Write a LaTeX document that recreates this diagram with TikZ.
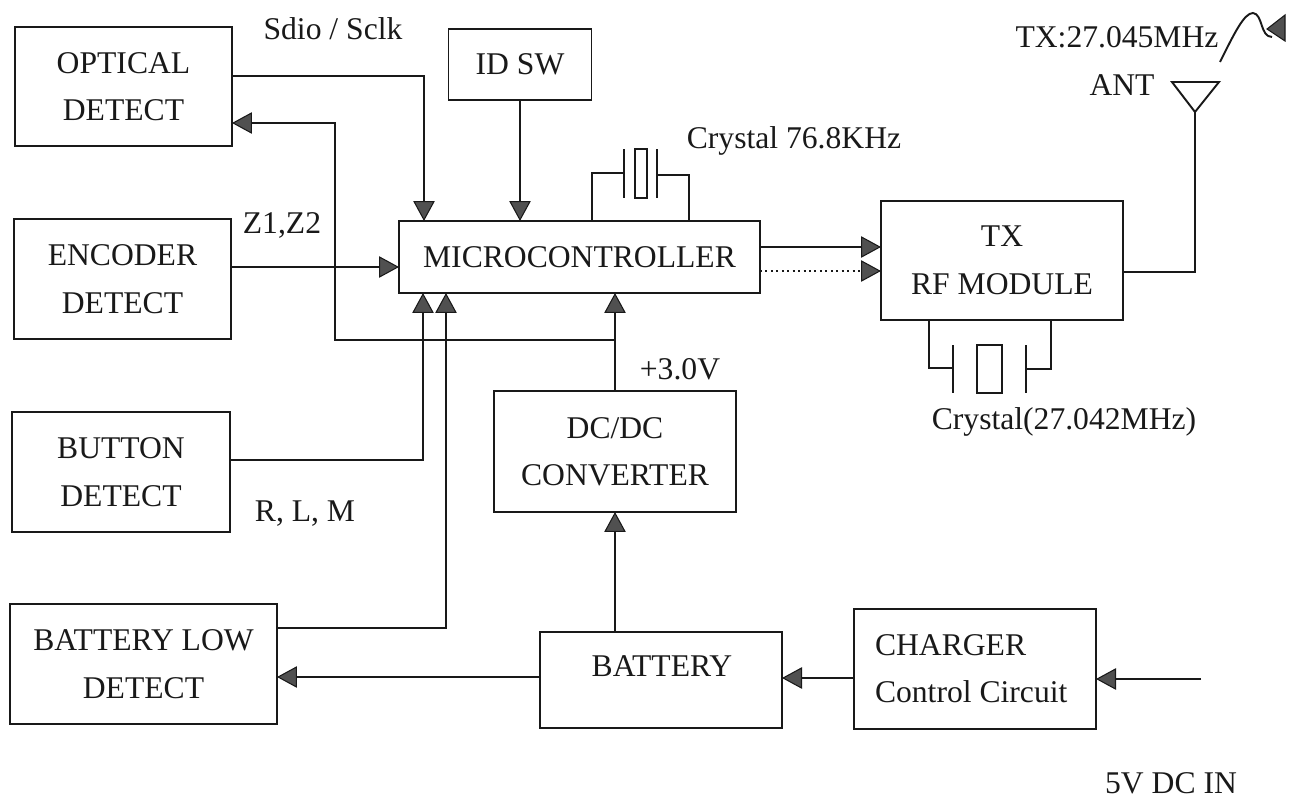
\documentclass[tikz,border=0pt]{standalone}
\usepackage{fontspec}
\setmainfont{Liberation Serif}
\usetikzlibrary{arrows.meta}
\definecolor{tipgray}{RGB}{80,80,80}
\definecolor{inkblack}{RGB}{25,25,25}
\tikzset{block/.style={rectangle, draw=inkblack, line width=1.1pt, inner sep=0pt, outer sep=0pt, align=center, font=\fontsize{18}{27}\selectfont, text=inkblack}}
\tikzset{tag/.style={inner sep=0pt, outer sep=0pt, align=left, font=\fontsize{18}{27}\selectfont, text=inkblack}}
\tikzset{wire/.style={draw=inkblack, line width=1.1pt}}
\tikzset{feed/.style={wire, -{Triangle[length=.4cm, width=.43cm, fill=tipgray, line width=.6pt]}}}
\begin{document}
\begin{tikzpicture}[x=0.02cm,y=-0.02cm]
  \useasboundingbox (0,0) rectangle (1296,801);
  \foreach \n/\x/\y/\w/\h/\t in {
    optical/123.5/86.5/217/119/{OPTICAL\\DETECT},
    encoder/122.5/279/217/120/{ENCODER\\DETECT},
    button/121/472/218/120/{BUTTON\\DETECT},
    batlow/143.5/664/267/120/{BATTERY LOW\\DETECT},
    idsw/520/64.5/143/71/{ID SW},
    micro/579.5/257/361/72/{MICROCONTROLLER},
    rfmod/1002/260.5/242/119/{TX\\RF MODULE},
    dcdc/615/451.5/242/121/{DC/DC\\CONVERTER},
    battery/661/680/242/96/{},
    charger/975/669/242/120/{}%
  } {
    \node[block, minimum width=\w*0.02cm, minimum height=\h*0.02cm] (\n) at (\x, \y) {\t};
  }
  \foreach \n/\x/\y/\t in {
    sdio/333/29/{Sdio / Sclk},
    zone/282/225/{Z1,Z2},
    rlm/305/514/{R, L, M},
    xtallow/794/141/{Crystal 76.8KHz},
    volts/680/369/{+3.0V},
    xtalrf/1064/422/{Crystal(27.042MHz)},
    batlabel/662/666/{BATTERY},
    txfreq/1117/37/{TX:27.045MHz},
    ant/1122/85/{ANT},
    dcin/1171/783/{5V DC IN}%
  } {
    \node[tag] (\n) at (\x, \y) {\t};
  }
  \node[tag, anchor=west] (chargea) at (875, 645) {CHARGER};
  \node[tag, anchor=west] (chargeb) at (875, 692) {Control Circuit};
  % inputs of the controller
  \draw[feed] (optical.east |- 0,76) -| (micro.north -| 424,0);
  \draw[feed] (idsw.south) -- (idsw.south |- micro.north);
  \draw[feed] (encoder.east |- 0,267) -- (micro.west |- 0,267);
  \draw[feed] (button.east |- 0,460) -| (micro.south -| 423,0);
  \draw[feed] (batlow.east |- 0,628) -| (micro.south -| 446,0);
  \draw[feed] (dcdc.north) -- (micro.south -| dcdc.north);
  \coordinate (tap) at (dcdc.north |- 0,340);
  \draw[feed] (tap) -- (335,340) |- (optical.east |- 0,123);
  % power chain
  \draw[feed] (battery.north -| dcdc.south) -- (dcdc.south);
  \draw[feed] (battery.west |- 0,677) -- (batlow.east |- 0,677);
  \draw[feed] (charger.west |- 0,678) -- (battery.east |- 0,678);
  \coordinate (plug) at (1201,679);
  \draw[feed] (plug) -- (charger.east |- plug);
  % rf path
  \draw[feed] (micro.east |- 0,247) -- (rfmod.west |- 0,247);
  \draw[feed, dotted] (micro.east |- 0,271) -- (rfmod.west |- 0,271);
  \coordinate (anttip) at (1195,112);
  \draw[wire] (rfmod.east |- 0,272) -| (anttip);
  \draw[wire] (anttip) -- (1172,82) -- (1219,82) -- cycle;
  \draw[wire] (1220,62) .. controls (1234,34) and (1244,13) .. (1253,13) .. controls (1263,14) and (1260,37) .. (1272,37);
  \draw[draw=inkblack, fill=tipgray, line width=.6pt] (1267,29) -- (1285,15) -- (1285,41) -- cycle;
  % crystals
  \draw[wire] (592,221) |- (624,173);
  \draw[wire] (689,221) |- (657,175);
  \draw[wire] (624,149) -- (624,198);
  \draw[wire] (657,149) -- (657,198);
  \draw[wire] (635,149) rectangle (647,198);
  \draw[wire] (929,320) |- (953,368);
  \draw[wire] (1051,320) |- (1026,369);
  \draw[wire] (953,345) -- (953,393);
  \draw[wire] (1026,345) -- (1026,393);
  \draw[wire] (977,345) rectangle (1002,393);
\end{tikzpicture}
\end{document}
